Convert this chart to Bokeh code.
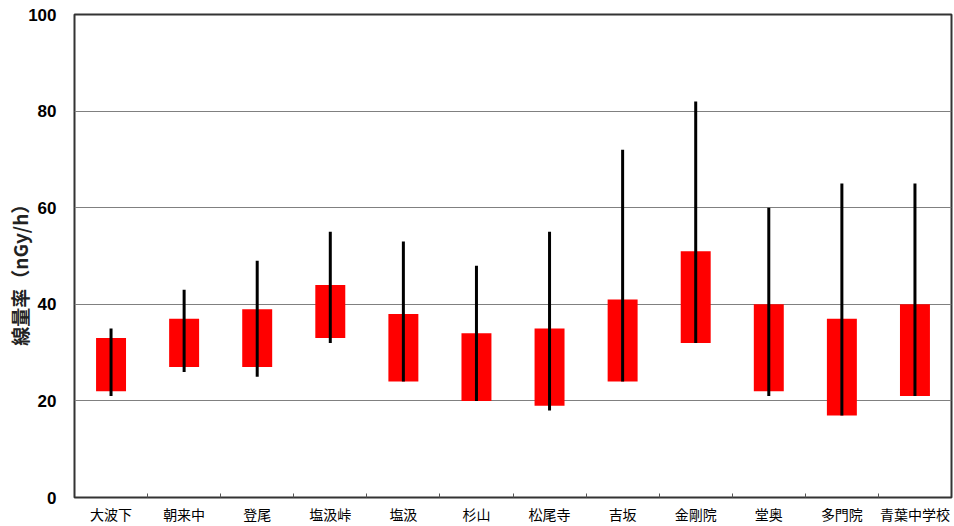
from bokeh.plotting import figure
from bokeh.models import Range1d, FixedTicker, ColumnDataSource
from bokeh.embed import file_html
from bokeh.resources import INLINE

# Monitoring sites
sites = ["大波下", "朝来中", "登尾", "塩汲峠", "塩汲", "杉山",
         "松尾寺", "吉坂", "金剛院", "堂奥", "多門院", "青葉中学校"]

# Dose rate (nGy/h): usual range (box) and observed extremes (line)
box_low = [22, 27, 27, 33, 24, 20, 19, 24, 32, 22, 17, 21]
box_high = [33, 37, 39, 44, 38, 34, 35, 41, 51, 40, 37, 40]
range_min = [21, 26, 25, 32, 24, 20, 18, 24, 32, 21, 17, 21]
range_max = [35, 43, 49, 55, 53, 48, 55, 72, 82, 60, 65, 65]

y_ticks = [0, 20, 40, 60, 80, 100]

xpos = [i + 0.5 for i in range(len(sites))]
src = ColumnDataSource(dict(x=xpos, lo=box_low, hi=box_high,
                            mn=range_min, mx=range_max))

p = figure(width=954, height=526, output_backend="svg", toolbar_location=None,
           x_range=Range1d(0, len(sites)), y_range=Range1d(0, 100),
           min_border_left=74, min_border_right=3, min_border_top=14,
           min_border_bottom=29)

p.background_fill_color = "white"
p.border_fill_color = "white"
p.outline_line_color = "#333333"
p.outline_line_width = 2

p.vbar(x="x", width=0.41, bottom="lo", top="hi", source=src,
       fill_color="#FF0000", line_color=None)
p.segment(x0="x", y0="mn", x1="x", y1="mx", source=src,
          line_color="black", line_width=3)

# y axis
p.yaxis.ticker = FixedTicker(ticks=y_ticks)
p.yaxis.axis_line_color = None
p.yaxis.major_tick_in = 0
p.yaxis.major_tick_out = 0
p.yaxis.minor_tick_line_color = None
p.yaxis.major_label_standoff = 18
p.yaxis.major_label_text_font = "Liberation Sans"
p.yaxis.major_label_text_font_style = "bold"
p.yaxis.major_label_text_font_size = "17px"
p.yaxis.major_label_text_color = "black"
p.yaxis.axis_label = "線量率（nGy/h）\u3000\u3000"
p.yaxis.axis_label_text_font = "Noto Sans CJK JP"
p.yaxis.axis_label_text_font_style = "bold"
p.yaxis.axis_label_text_font_size = "19px"
p.yaxis.axis_label_text_color = "#222222"
p.yaxis.axis_label_standoff = -8

# x axis: labels at category centres, small ticks at the boundaries
p.xaxis.ticker = FixedTicker(ticks=xpos, minor_ticks=list(range(1, len(sites))))
p.xaxis.major_label_overrides = {x: s for x, s in zip(xpos, sites)}
p.xaxis.axis_line_color = None
p.xaxis.major_tick_in = 0
p.xaxis.major_tick_out = 0
p.xaxis.minor_tick_in = 4
p.xaxis.minor_tick_out = 0
p.xaxis.minor_tick_line_color = "#555555"
p.xaxis.major_label_standoff = 6
p.xaxis.major_label_text_font = "Noto Sans CJK JP"
p.xaxis.major_label_text_font_size = "14px"
p.xaxis.major_label_text_color = "black"

p.xgrid.grid_line_color = None
p.ygrid.ticker = FixedTicker(ticks=y_ticks)
p.ygrid.grid_line_color = "#808080"
p.ygrid.grid_line_width = 1

open("out.html", "w").write(file_html(p, INLINE))
